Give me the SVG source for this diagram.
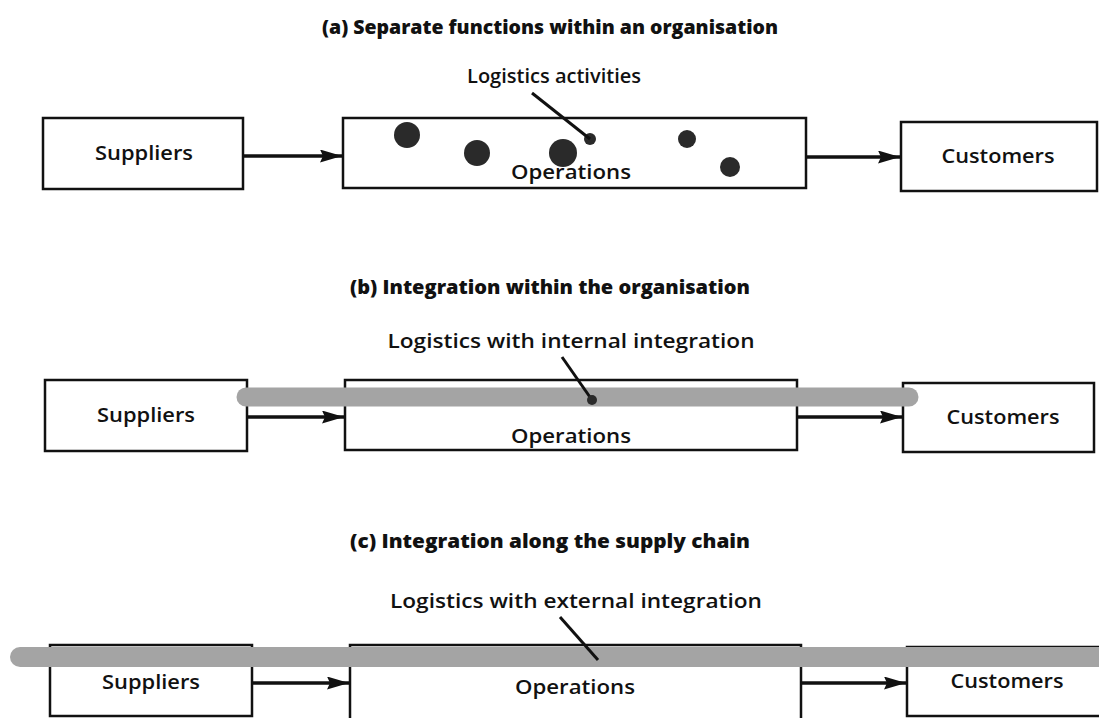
<svg xmlns="http://www.w3.org/2000/svg" width="1099" height="718" viewBox="0 0 1099 718">
<style>
.box{fill:#fff;stroke:#111;stroke-width:2.5}
.conn{stroke:#111;stroke-width:3.5;fill:none}
.lead{stroke:#111;stroke-width:3;fill:none}
.t{font-family:"Open Sans","Noto Sans",sans-serif;font-weight:600;font-size:19px;fill:#111;text-anchor:middle}
.title{font-family:"Open Sans","Noto Sans",sans-serif;font-weight:800;font-size:19px;fill:#111;text-anchor:middle}
.band{stroke:#a4a4a4;stroke-width:19;stroke-linecap:round;fill:none}
.dot{fill:#2a2a2a}
</style>
<defs>
<marker id="ah" viewBox="0 0 22 13" refX="22" refY="6.5" markerWidth="22" markerHeight="13" markerUnits="userSpaceOnUse" orient="auto">
<path d="M0,0 L22,6.5 L0,13 L3,6.5 Z" fill="#111"/>
</marker>
</defs>

<!-- Panel (a) -->
<text class="title" x="550" y="34" textLength="456" lengthAdjust="spacingAndGlyphs">(a) Separate functions within an organisation</text>
<g id="a-suppliers"><rect class="box" x="43" y="118" width="200" height="71"/><text class="t" x="144" y="160" textLength="98" lengthAdjust="spacingAndGlyphs">Suppliers</text></g>
<g id="a-operations"><rect class="box" x="343" y="118" width="463" height="70"/><text class="t" x="571" y="179" textLength="120" lengthAdjust="spacingAndGlyphs">Operations</text>
<circle class="dot" cx="407" cy="135" r="13"/><circle class="dot" cx="477" cy="153" r="13"/><circle class="dot" cx="563" cy="153" r="14"/><circle class="dot" cx="590" cy="139" r="6"/><circle class="dot" cx="687" cy="139" r="9"/><circle class="dot" cx="730" cy="167" r="10"/></g>
<g id="a-customers"><rect class="box" x="901" y="122" width="196" height="69"/><text class="t" x="998" y="163" textLength="113" lengthAdjust="spacingAndGlyphs">Customers</text></g>
<g id="a-label"><text class="t" x="554" y="83" textLength="174" lengthAdjust="spacingAndGlyphs">Logistics activities</text><line class="lead" x1="532" y1="93" x2="590" y2="139"/></g>

<!-- Panel (b) -->
<text class="title" x="550" y="294" textLength="400" lengthAdjust="spacingAndGlyphs">(b) Integration within the organisation</text>
<g id="b-suppliers"><rect class="box" x="45" y="380" width="202" height="71"/><text class="t" x="146" y="422" textLength="98" lengthAdjust="spacingAndGlyphs">Suppliers</text></g>
<g id="b-operations"><rect class="box" x="345" y="380" width="452" height="70"/><text class="t" x="571" y="443" textLength="120" lengthAdjust="spacingAndGlyphs">Operations</text></g>
<g id="b-customers"><rect class="box" x="903" y="383" width="191" height="69"/><text class="t" x="1003" y="424" textLength="113" lengthAdjust="spacingAndGlyphs">Customers</text></g>

<!-- Panel (c) -->
<text class="title" x="550" y="548" textLength="400" lengthAdjust="spacingAndGlyphs">(c) Integration along the supply chain</text>
<g id="c-suppliers"><rect class="box" x="50" y="645" width="202" height="71"/><text class="t" x="151" y="689" textLength="98" lengthAdjust="spacingAndGlyphs">Suppliers</text></g>
<g id="c-operations"><rect class="box" x="350" y="645" width="451" height="75"/><text class="t" x="575" y="694" textLength="120" lengthAdjust="spacingAndGlyphs">Operations</text></g>
<g id="c-customers"><rect class="box" x="907" y="647" width="195" height="69"/><text class="t" x="1007" y="688" textLength="113" lengthAdjust="spacingAndGlyphs">Customers</text></g>

<g id="connectors">
<line class="conn" x1="243" y1="156" x2="342" y2="156" marker-end="url(#ah)"/>
<line class="conn" x1="806" y1="157" x2="900" y2="157" marker-end="url(#ah)"/>
<line class="conn" x1="247" y1="417" x2="344" y2="417" marker-end="url(#ah)"/>
<line class="conn" x1="797" y1="417" x2="902" y2="417" marker-end="url(#ah)"/>
<line class="conn" x1="252" y1="683" x2="349" y2="683" marker-end="url(#ah)"/>
<line class="conn" x1="801" y1="683" x2="906" y2="683" marker-end="url(#ah)"/>
</g>

<g id="b-band"><line class="band" x1="246" y1="397" x2="909" y2="397"/>
<text class="t" x="571" y="348" textLength="367" lengthAdjust="spacingAndGlyphs">Logistics with internal integration</text>
<line class="lead" x1="562" y1="357" x2="592" y2="400"/><circle class="dot" cx="592" cy="400" r="5"/></g>

<g id="c-band"><line class="band" x1="20" y1="657" x2="1120" y2="657" style="stroke-width:20"/>
<text class="t" x="576" y="608" textLength="372" lengthAdjust="spacingAndGlyphs">Logistics with external integration</text>
<line class="lead" x1="560" y1="617" x2="598" y2="660"/></g>
</svg>
